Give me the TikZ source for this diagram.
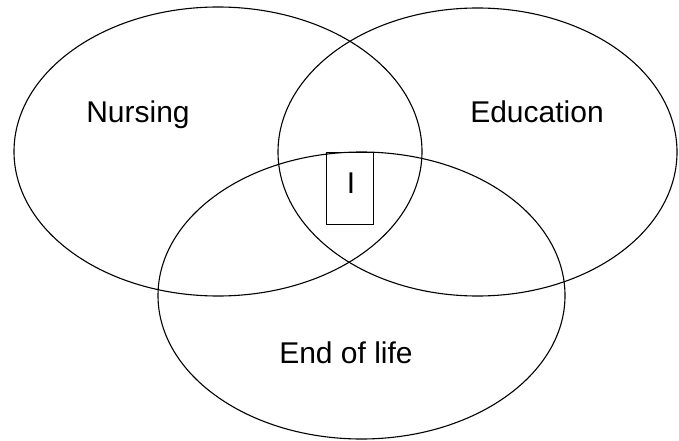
\documentclass[tikz,border=0pt]{standalone}
\usepackage{fontspec}
\setmainfont{Liberation Sans}
\usetikzlibrary{shapes.geometric}
\begin{document}
\begin{tikzpicture}[x=1pt,y=-1pt,
  setel/.style={draw=black,line width=1.1pt,ellipse,inner sep=0pt},
  lbl/.style={font=\fontsize{30}{32}\selectfont,inner sep=0pt,anchor=base},
  ibox/.style={draw=black,line width=1.1pt,minimum width=47pt,minimum height=72pt,inner sep=0pt}]
\useasboundingbox (0,0) rectangle (679,441);
\node[setel,minimum width=408pt,minimum height=289pt] (nurs) at (218,151.5) {};
\node[setel,minimum width=399pt,minimum height=288pt] (edu) at (477.5,152) {};
\node[setel,minimum width=407pt,minimum height=287pt] (eol) at (361.5,295.5) {};
\node[lbl] (tn) at (138,122) {Nursing};
\node[lbl] (te) at (537,122) {Education};
\node[lbl] (tl) at (346,363) {End of life};
\node[ibox] (i) at (350,188.5) {};
\node[lbl] (ti) at (351,193) {I};
\end{tikzpicture}
\end{document}
